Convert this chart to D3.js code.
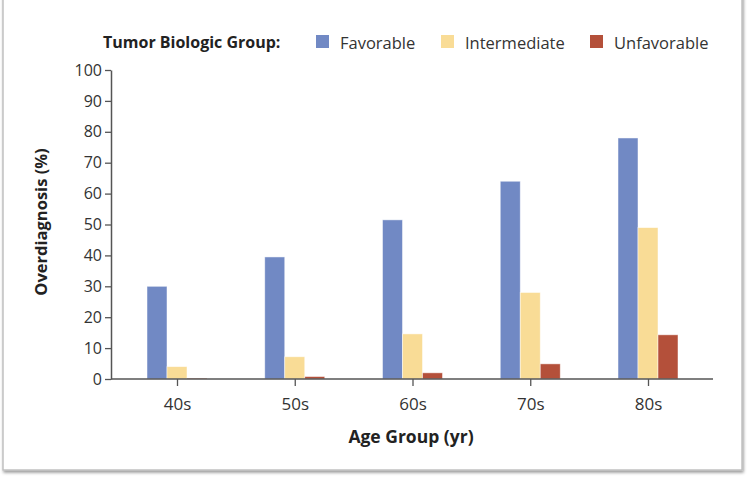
<!DOCTYPE html>
<html><head><meta charset="utf-8">
<script src="https://cdn.jsdelivr.net/npm/d3@7"></script>
<style>
html,body{margin:0;padding:0;background:#fff;}
svg{display:block;font-family:"Open Sans",sans-serif;}
</style></head>
<body><svg id="c" width="749" height="480"></svg>
<script>
const categories = ["40s","50s","60s","70s","80s"];
const seriesNames = ["Favorable","Intermediate","Unfavorable"];
const favorable = [30, 39.5, 51.5, 64, 78];
const intermediate = [4, 7.2, 14.6, 28, 49];
const unfavorable = [0.3, 0.8, 2.0, 4.9, 14.3];
const yTicks = [0,10,20,30,40,50,60,70,80,90,100];
const colors = ["#7189c4","#f9dc96","#b4503a"];

(function(){
const series = [favorable, intermediate, unfavorable];
const svg = d3.select("#c");

// frame
const defs = svg.append("defs");
const f = defs.append("filter").attr("id","sh").attr("x","-5%").attr("y","-5%").attr("width","110%").attr("height","110%");
f.append("feDropShadow").attr("dx",1).attr("dy",2).attr("stdDeviation",1.6).attr("flood-color","#000").attr("flood-opacity",0.4);
svg.append("rect").attr("x",3).attr("y",-4).attr("width",739).attr("height",474)
  .attr("fill","#fff").attr("stroke","#bdbdbd").attr("stroke-width",1.4).attr("filter","url(#sh)");

const mLeft = 111, mRight = 713, mTop = 70, mBottom = 379;
const y = d3.scaleLinear().domain([0,100]).range([mBottom, mTop]);
const x0 = d3.scalePoint().domain(categories).range([177, 648]);
const x1 = d3.scaleBand().domain(seriesNames).range([-30, 30]);

// bars
series.forEach((vals, si) => {
  svg.append("g").selectAll("rect").data(vals).join("rect")
    .attr("x", (d,i) => x0(categories[i]) + x1(seriesNames[si]))
    .attr("width", x1.bandwidth())
    .attr("y", d => y(d))
    .attr("height", d => y(0) - y(d))
    .attr("fill", colors[si])
    .attr("stroke", "rgba(255,255,255,0.6)").attr("stroke-width", 0.8);
});

// y axis
const yAxis = d3.axisLeft(y).tickValues(yTicks).tickSize(6).tickPadding(3).tickSizeOuter(0);
const gy = svg.append("g").attr("transform",`translate(${mLeft},0)`).call(yAxis);
gy.select(".domain").attr("stroke","#555").attr("stroke-width",1.5);
gy.selectAll(".tick line").attr("stroke","#555").attr("stroke-width",1.3);
gy.selectAll(".tick text").attr("fill","#333").style("font-size","16px").style("font-family","'Open Sans',sans-serif");

// x axis
const gx = svg.append("g").attr("transform",`translate(0,${mBottom})`);
gx.append("line").attr("x1",mLeft).attr("x2",mRight).attr("stroke","#555").attr("stroke-width",1.5);
const xAxis = d3.axisBottom(x0).tickSize(7).tickPadding(12).tickSizeOuter(0);
const gxa = gx.append("g").call(xAxis);
gxa.select(".domain").remove();
gxa.selectAll(".tick line").attr("stroke","#555").attr("stroke-width",1.3);
gxa.selectAll(".tick text").attr("fill","#333").style("font-size","17px").style("font-family","'Open Sans',sans-serif");

// axis titles
svg.append("text").attr("transform","translate(47,222) rotate(-90)").attr("text-anchor","middle")
  .attr("fill","#222").style("font-size","16.5px").style("font-weight","bold").text("Overdiagnosis (%)");
svg.append("text").attr("x",411).attr("y",443).attr("text-anchor","middle")
  .attr("fill","#222").style("font-size","17.5px").style("font-weight","bold").text("Age Group (yr)");

// legend
const lg = svg.append("g");
lg.append("text").attr("x",103).attr("y",48).attr("fill","#222").style("font-size","16px").style("font-weight","bold").text("Tumor Biologic Group:");
const legX = [316, 441, 590];
seriesNames.forEach((n,i) => {
  lg.append("rect").attr("x",legX[i]).attr("y",35).attr("width",13).attr("height",13).attr("fill",colors[i]);
  lg.append("text").attr("x",legX[i]+24).attr("y",48.5).attr("fill","#333").style("font-size","16.5px").text(n);
});
})();
</script></body></html>
